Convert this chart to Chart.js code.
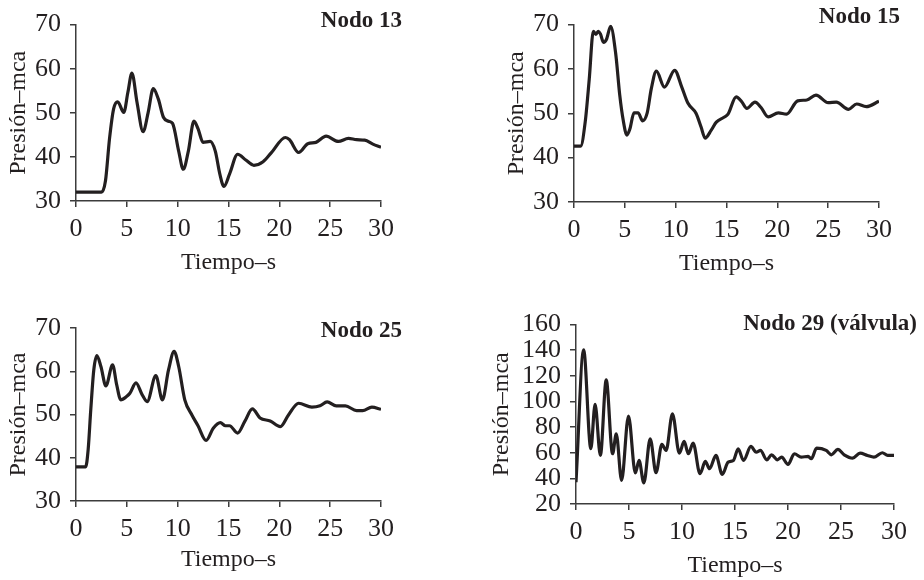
<!DOCTYPE html>
<html>
<head>
<meta charset="utf-8">
<script src="https://cdn.jsdelivr.net/npm/chart.js@4"></script>
<style>
  body { margin: 0; background: #fff; width: 924px; height: 580px; position: relative; overflow: hidden; }
  .panel { position: absolute; }
  .label { position: absolute; font: bold 23px "Liberation Serif", serif; line-height: 22px; color: #231f20; white-space: nowrap; }
</style>
</head>
<body>

<div class="panel" style="left:0;top:0;width:420px;height:290px"><canvas id="c13"></canvas></div>
<div class="panel" style="left:497px;top:0;width:427px;height:290px"><canvas id="c15"></canvas></div>
<div class="panel" style="left:0;top:300px;width:420px;height:280px"><canvas id="c25"></canvas></div>
<div class="panel" style="left:480px;top:300px;width:444px;height:280px"><canvas id="c29"></canvas></div>

<div class="label" style="right:522px;top:9px">Nodo 13</div>
<div class="label" style="right:24px;top:5px">Nodo 15</div>
<div class="label" style="right:522px;top:319px">Nodo 25</div>
<div class="label" style="right:7px;top:312px">Nodo 29 (válvula)</div>

<script>
// Time axis (s) shared by all panels
const X_TICKS = [0, 5, 10, 15, 20, 25, 30];
const X_LABEL = 'Tiempo–s';
const Y_LABEL = 'Presión–mca';

// Nodo 13
const t13 = [0, 2.5, 2.9, 3.3, 3.7, 4.1, 4.7, 5.1, 5.5, 6.0, 6.6, 7.1, 7.6, 8.1, 8.6, 9.1, 9.5, 10.1, 10.55, 11.05,
  11.6, 12.0, 12.5, 13.2, 13.7, 14.15, 14.55, 15.1, 15.9, 16.7, 17.5, 18.4, 19.2, 20.6, 21.0, 21.9, 22.8, 23.6,
  24.6, 25.8, 26.8, 27.6, 28.4, 29.2, 30];
const p13 = [32, 32, 34.6, 44.2, 50.9, 52.5, 50.1, 54.6, 59.0, 52.4, 45.7, 50.1, 55.5, 53.1, 49.0, 48.1, 47.6, 41.3, 37.2, 41.3,
  48.1, 46.4, 43.3, 43.5, 41.3, 36.1, 33.3, 36.1, 40.6, 39.3, 38.1, 38.9, 40.9, 44.4, 43.9, 41.0, 43.0, 43.3,
  44.7, 43.5, 44.2, 43.9, 43.8, 42.9, 42.2];

// Nodo 15
const t15 = [0, 0.65, 1.1, 1.5, 1.9, 2.15, 2.4, 2.6, 2.9, 3.2, 3.6, 4.1, 4.5, 4.85, 5.2, 5.5, 5.9, 6.3, 6.75, 7.2,
  7.6, 8.1, 8.9, 9.9, 10.6, 11.2, 12.0, 12.5, 12.9, 13.5, 14.0, 14.75, 15.15, 15.95, 16.5, 17.0, 17.8, 18.4,
  19.1, 20.1, 20.9, 22.0, 22.9, 23.8, 25.0, 25.8, 27.0, 27.8, 28.75, 30];
const p15 = [42.6, 42.6, 48.0, 57.7, 68.5, 67.8, 68.5, 67.9, 66.0, 66.7, 69.6, 63.5, 54.1, 48.3, 45.1, 46.5, 50.1, 50.1, 48.3, 50.1,
  55.5, 59.5, 55.9, 59.7, 55.9, 52.3, 50.0, 46.9, 44.4, 46.2, 48.0, 49.1, 49.8, 53.7, 52.6, 51.1, 52.5, 51.3,
  49.2, 50.1, 49.8, 52.8, 53.0, 54.1, 52.4, 52.5, 50.9, 52.1, 51.5, 52.7];

// Nodo 25
const t25 = [0, 0.95, 1.2, 1.45, 1.75, 2.05, 2.45, 2.94, 3.6, 4.0, 4.4, 5.0, 5.3, 5.9, 6.5, 7.0, 7.85, 8.5, 9.1, 9.65,
  10.1, 10.7, 11.4, 12.0, 12.8, 13.5, 14.2, 14.7, 15.1, 15.9, 16.6, 17.35, 18.1, 19.1, 20.1, 20.9, 21.9, 23.2,
  24.0, 24.7, 25.6, 26.5, 27.6, 28.2, 29.1, 30];
const p25 = [37.9, 37.9, 42, 51, 60.3, 63.6, 61.1, 56.6, 61.5, 56.9, 53.4, 54.2, 54.9, 57.3, 54.6, 53.0, 59.0, 53.4, 60.3, 64.6,
  61.1, 53.4, 49.9, 47.4, 44.0, 46.8, 48.1, 47.4, 47.4, 45.7, 48.4, 51.3, 49.2, 48.5, 47.2, 49.9, 52.6, 51.7,
  52.0, 52.9, 52.0, 52.0, 50.9, 50.9, 51.7, 51.2];

// Nodo 29 (válvula)
const t29 = [0, 0.72, 1.4, 1.8, 2.3, 2.85, 3.45, 3.8, 4.3, 4.95, 5.6, 5.95, 6.4, 7.0, 7.55, 8.1, 8.5, 9.1, 9.75, 10.2,
  10.6, 11.05, 11.7, 12.2, 12.6, 13.2, 13.8, 14.35, 14.85, 15.3, 15.8, 16.5, 17.0, 17.4, 18.0, 18.45, 19.0, 19.4,
  20.0, 20.6, 21.25, 21.9, 22.2, 22.7, 23.6, 24.1, 24.7, 25.3, 26.1, 26.8, 27.5, 28.1, 28.9, 29.4, 30];
const p29 = [37, 140.3, 63.1, 97.7, 57.9, 116.9, 59.2, 74.8, 38.4, 88.6, 44.2, 54.0, 36.4, 70.9, 44.4, 66.5, 61.8, 90.4, 59.7, 68.8,
  59.2, 67.5, 43.6, 53.2, 47.5, 57.9, 43.1, 52.7, 54.0, 63.1, 54.0, 64.9, 60.5, 61.8, 54.5, 58.4, 54.5, 56.6,
  50.9, 59.2, 56.6, 57.1, 55.3, 63.6, 61.8, 58.4, 62.6, 58.4, 55.8, 59.7, 57.9, 56.6, 60.0, 57.9, 57.9];

const INK = '#231f20';
const AXIS = '#3c3c3c';
const FONT = '"Liberation Serif", serif';

function makePanel(id, t, p, yMin, yMax, yStep, box) {
    const ctx = document.getElementById(id).getContext('2d');
    const axisStyle = {
        grid: { display: true, drawOnChartArea: false, drawTicks: true, tickLength: 6, color: AXIS, lineWidth: 1.5 },
        border: { display: true, color: AXIS, width: 1.5 }
    };
    return new Chart(ctx, {
        type: 'line',
        data: {
            datasets: [{
                data: t.map((v, i) => ({ x: v, y: p[i] })),
                borderColor: INK,
                borderWidth: 3.2,
                pointRadius: 0,
                cubicInterpolationMode: 'monotone',
                fill: false
            }]
        },
        options: {
            responsive: true,
            maintainAspectRatio: false,
            animation: false,
            layout: { padding: { left: 0, bottom: 0, top: box.padTop, right: box.padRight } },
            plugins: { legend: { display: false }, tooltip: { enabled: false } },
            scales: {
                x: {
                    type: 'linear', min: 0, max: 30,
                    ...axisStyle,
                    afterBuildTicks: s => { s.ticks = X_TICKS.map(v => ({ value: v })); },
                    afterFit: s => { s.height = box.xH; },
                    ticks: { color: INK, font: { family: FONT, size: 26 }, padding: 7, maxRotation: 0, autoSkip: false },
                    title: { display: true, text: X_LABEL, color: INK, font: { family: FONT, size: 24 }, padding: { bottom: box.xTitlePad, top: 0 } }
                },
                y: {
                    min: yMin, max: yMax,
                    ...axisStyle,
                    ticks: { stepSize: yStep, color: INK, font: { family: FONT, size: 26 }, padding: 9, autoSkip: false },
                    afterFit: s => { s.width = box.yW; },
                    title: { display: true, text: Y_LABEL, color: INK, font: { family: FONT, size: 24 }, padding: { top: box.yTitlePad, bottom: 0 } }
                }
            }
        }
    });
}

// chart areas: 13 -> x 76..381, y 21..201 ; 15 -> x 574..879, y 17..202
//              25 -> x 76..381, y 328..501 ; 29 -> x 576..894, y 324..504
makePanel('c13', t13, p13, 30, 70, 10, { padTop: 21, padRight: 39, xH: 89, yW: 76, xTitlePad: 13, yTitlePad: 4 });
makePanel('c15', t15, p15, 30, 70, 10, { padTop: 17, padRight: 45, xH: 88, yW: 77, xTitlePad: 12, yTitlePad: 5 });
makePanel('c25', t25, p25, 30, 70, 10, { padTop: 28, padRight: 39, xH: 79, yW: 76, xTitlePad: 6, yTitlePad: 4 });
makePanel('c29', t29, p29, 20, 160, 20, { padTop: 24, padRight: 30, xH: 76, yW: 96, xTitlePad: 0, yTitlePad: 7 });
</script>
</body>
</html>
